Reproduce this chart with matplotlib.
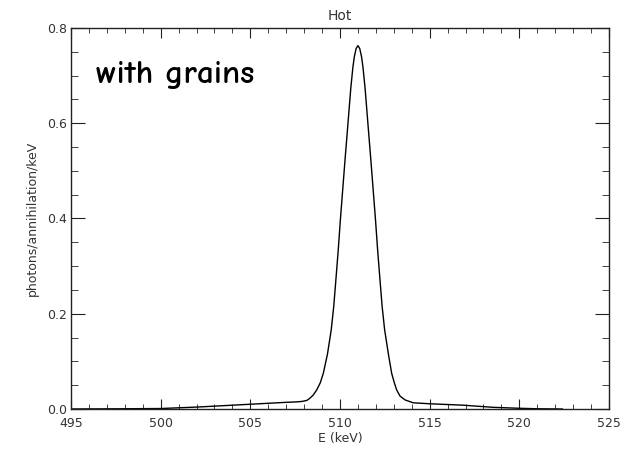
import matplotlib
matplotlib.use("Agg")
import matplotlib.pyplot as plt
from matplotlib.ticker import MultipleLocator

energy_kev = [495, 498, 500, 502, 504, 505, 506, 507, 507.6, 507.9, 508.15, 508.3, 508.5,
              508.7, 508.9, 509.07, 509.3, 509.51, 509.65, 509.77, 509.9, 510.02, 510.28,
              510.46, 510.6, 510.72, 510.8, 510.9, 511.0, 511.1, 511.2, 511.28, 511.4,
              511.54, 511.72, 511.98, 512.1, 512.23, 512.35, 512.49, 512.7, 512.88,
              513.03, 513.16, 513.35, 513.63, 514.09, 515, 516.86, 518.55, 520, 521, 522.4]
photons = [0.0, 0.0005, 0.001, 0.004, 0.008, 0.010, 0.012, 0.014, 0.015, 0.016, 0.018, 0.022, 0.029,
           0.040, 0.055, 0.075, 0.115, 0.166, 0.215, 0.271, 0.333, 0.397, 0.523,
           0.607, 0.673, 0.718, 0.740, 0.757, 0.763, 0.757, 0.740, 0.718, 0.673,
           0.607, 0.523, 0.397, 0.333, 0.271, 0.215, 0.166, 0.115, 0.075,
           0.055, 0.040, 0.027, 0.019, 0.013, 0.011, 0.008, 0.0035, 0.0015, 0.0005, 0.0]

x_ticks = [495, 500, 505, 510, 515, 520, 525]
y_ticks = [0.0, 0.2, 0.4, 0.6, 0.8]
y_tick_labels = ["0.0", "0.2", "0.4", "0.6", "0.8"]

title = "Hot"
x_label = "E (keV)"
y_label = "photons/annihilation/keV"
annotation = "with grains"

fig = plt.figure(figsize=(6.35, 4.51), dpi=100)
ax = fig.add_axes([71/635, 42/451, 538/635, 381/451])

ax.plot(energy_kev, photons, color="black", lw=1.0)

ax.set_xlim(495, 525)
ax.set_ylim(0, 0.8)
ax.set_xticks(x_ticks)
ax.set_yticks(y_ticks)
ax.set_yticklabels(y_tick_labels)
ax.xaxis.set_minor_locator(MultipleLocator(1))
ax.yaxis.set_minor_locator(MultipleLocator(0.05))

txtc = "#333333"
ax.tick_params(which="both", direction="in", top=True, right=True, colors="#222222",
               labelcolor=txtc, labelsize=9)
ax.tick_params(axis="x", which="major", length=7, pad=6)
ax.tick_params(axis="x", which="minor", length=3.5)
ax.tick_params(axis="y", which="major", length=10, pad=3)
ax.tick_params(axis="y", which="minor", length=5)
for s in ax.spines.values():
    s.set_color("#222222")
    s.set_linewidth(1.0)

ax.set_title(title, fontsize=10, color=txtc, pad=6)
ax.set_xlabel(x_label, fontsize=9, color=txtc, labelpad=1)
ax.set_ylabel(y_label, fontsize=9, color=txtc, labelpad=6)

ax.text(496.4, 0.685, annotation, fontsize=24, color="black", fontweight="bold",
        family=["Comic Neue", "Comic Sans MS", "DejaVu Sans"])

fig.savefig("out.png", dpi=100)
